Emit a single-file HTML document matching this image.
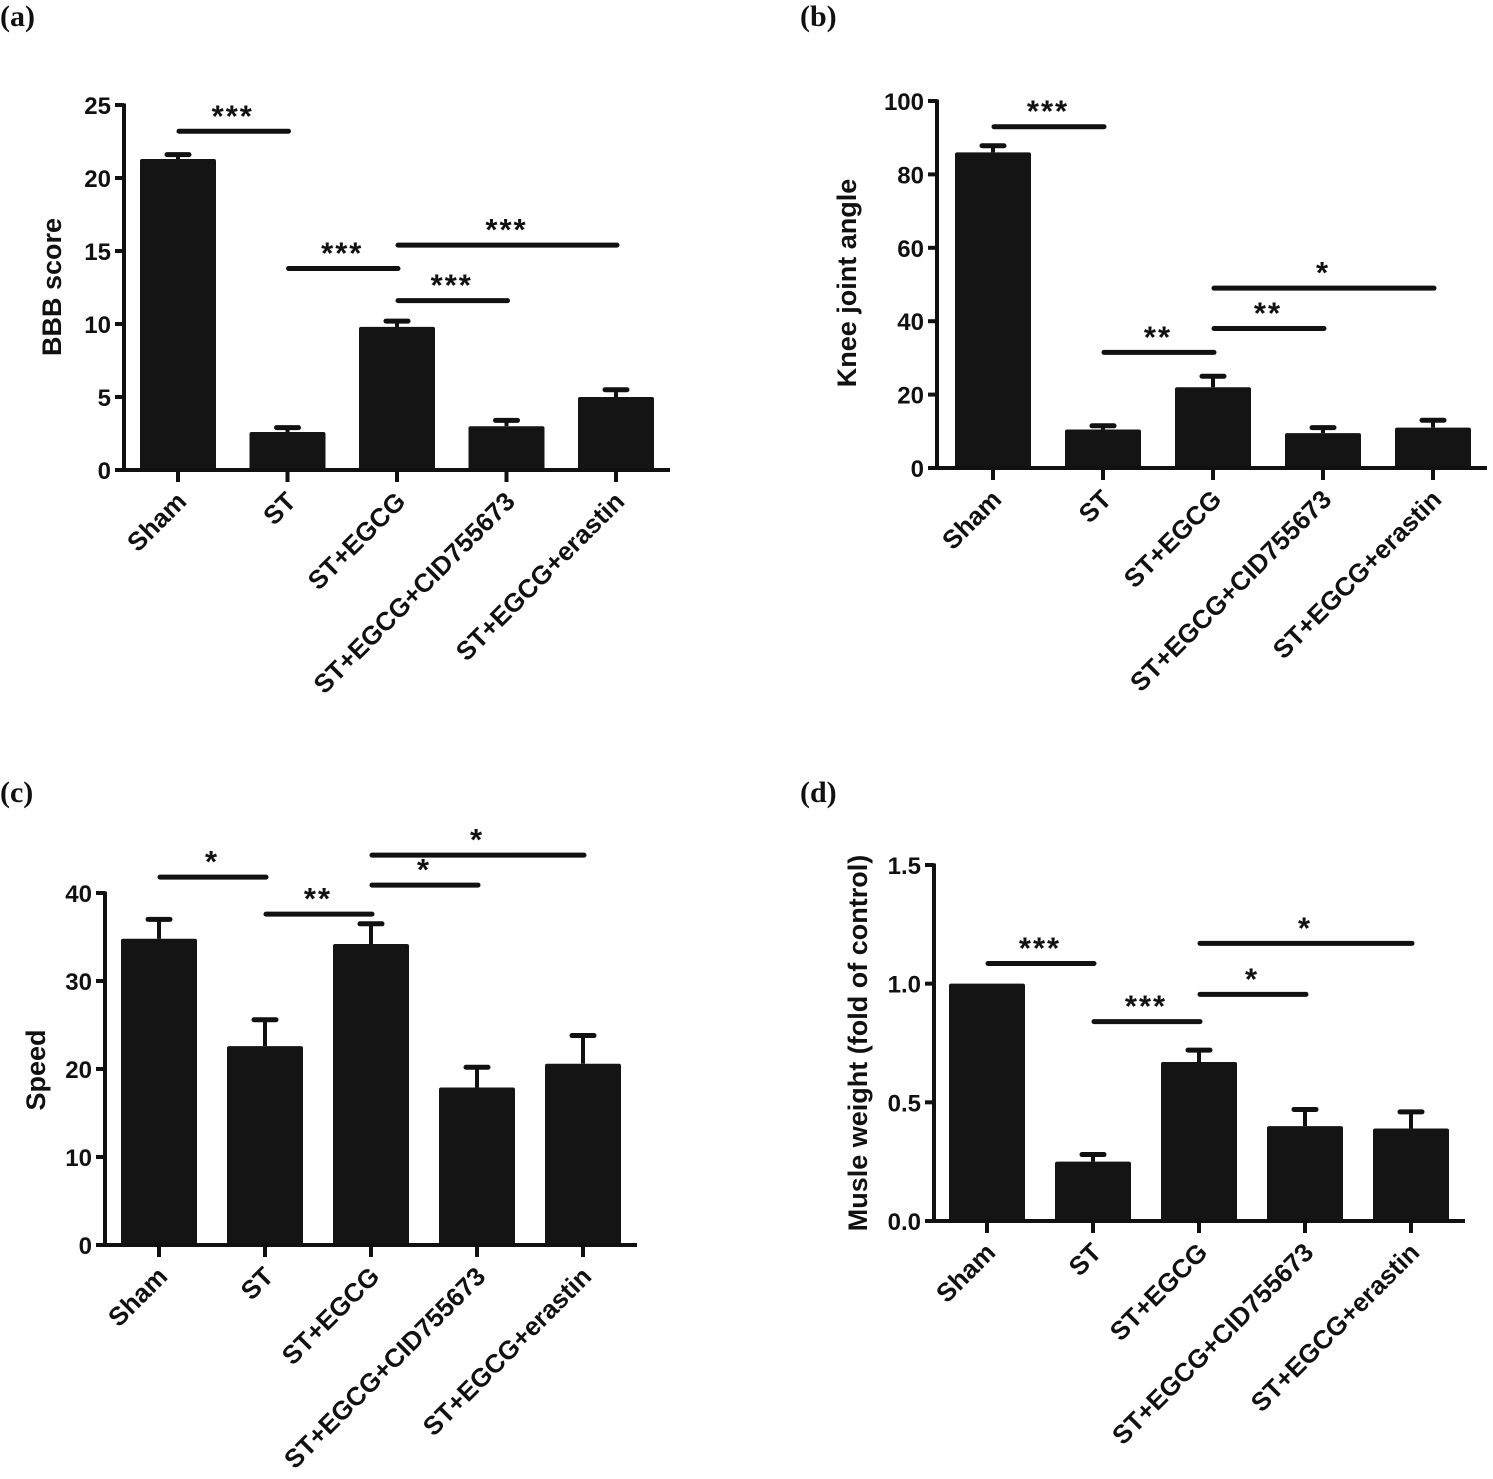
<!DOCTYPE html>
<html><head><meta charset="utf-8"><style>
body{margin:0;background:#fff}
svg{display:block}
text{font-family:"Liberation Sans",Arial,sans-serif;font-weight:bold;fill:#111}
</style></head><body>
<svg id="fig" width="1493" height="1479" viewBox="0 0 1493 1479"></svg>
<script>
const categories = ["Sham","ST","ST+EGCG","ST+EGCG+CID755673","ST+EGCG+erastin"];
const valuesA = [21.3,2.6,9.8,3.0,5.0];
const errorsA = [0.3,0.3,0.4,0.4,0.5];
const ticksA = [0,5,10,15,20,25];
const valuesB = [86,10.5,22,9.5,11];
const errorsB = [1.8,1.0,3.0,1.5,2.0];
const ticksB = [0,20,40,60,80,100];
const valuesC = [34.8,22.6,34.2,17.9,20.6];
const errorsC = [2.2,3.0,2.3,2.3,3.2];
const ticksC = [0,10,20,30,40];
const valuesD = [1.0,0.25,0.67,0.40,0.39];
const errorsD = [0,0.03,0.05,0.07,0.07];
const ticksD = [0,0.5,1.0,1.5];
const tickLabelsD = ["0.0","0.5","1.0","1.5"];
const sigA = [[0,1,23.2,"***"],[1,2,13.8,"***"],[2,3,11.6,"***"],[2,4,15.4,"***"]];
const sigB = [[0,1,93,"***"],[1,2,31.5,"**"],[2,3,38,"**"],[2,4,49,"*"]];
const sigC = [[0,1,41.8,"*"],[1,2,37.6,"**"],[2,3,40.9,"*"],[2,4,44.3,"*"]];
const sigD = [[0,1,1.085,"***"],[1,2,0.84,"***"],[2,3,0.955,"*"],[2,4,1.17,"*"]];

const NS="http://www.w3.org/2000/svg";
const svg=document.getElementById('fig');
function el(tag,attrs,parent){const e=document.createElementNS(NS,tag);for(const k in attrs)e.setAttribute(k,attrs[k]);(parent||svg).appendChild(e);return e;}

function panel(p){
  const g=el('g',{});
  
  
  const yS=v=>p.y0+(v-0)*(p.yTop-p.y0)/p.max;
  const xS=i=>p.x0+i*p.step;
  const lab=el('text',{x:p.lx,y:p.ly,'font-size':30,style:'font-family:"Liberation Serif",serif'},g);
  lab.textContent='('+p.id+')';
  
  
  p.vals.forEach((v,i)=>{
    const cx=xS(i);
    const top=yS(v);
    if(p.errs[i]>0){
      const et=yS(v+p.errs[i]);
      const e1=el('line',{x1:cx,y1:top,x2:cx,y2:et,stroke:'#111','stroke-width':4},g);
      
      
      const e2=el('line',{x1:cx-11,y1:et,x2:cx+11,y2:et,stroke:'#111','stroke-width':5,'stroke-linecap':'round'},g);
      
      
    }
    const r=el('rect',{x:cx-38,y:top,width:76,height:p.y0-top,fill:'#141414',rx:2},g);
    
    
    const t=el('line',{x1:cx,y1:p.y0,x2:cx,y2:p.y0+12,stroke:'#111','stroke-width':4},g);
    
    
    const tx=el('text',{x:0,y:0,'font-size':26,'text-anchor':'end',transform:`translate(${cx+10},${p.y0+33}) rotate(-45)`},g);
    tx.textContent=categories[i];
    
    
  });
  const ax=el('line',{x1:p.ax,y1:p.y0,x2:p.ax,y2:yS(p.max)-1.5,stroke:'#111','stroke-width':4},g);
  
  
  const bx=el('line',{x1:p.ax-2,y1:p.y0,x2:xS(4)+54,y2:p.y0,stroke:'#111','stroke-width':4},g);
  
  
  p.ticks.forEach((t,k)=>{
    const y=yS(t);
    const l=el('line',{x1:p.ax-9,y1:y,x2:p.ax,y2:y,stroke:'#111','stroke-width':4},g);
    
    
    const tt=el('text',{x:p.ax-13,y:y+9,'font-size':24,'text-anchor':'end'},g);
    tt.textContent=p.tickLabels?p.tickLabels[k]:String(t);
    
    
  });
  const yt=el('text',{x:0,y:0,'font-size':27,'text-anchor':'middle',transform:`translate(${p.tx},${p.ty}) rotate(-90)`},g);
  yt.textContent=p.title;
  
  
  p.sig.forEach(s=>{
    const y=yS(s[2]);
    const l=el('line',{x1:xS(s[0])+1,y1:y,x2:xS(s[1])+1,y2:y,stroke:'#111','stroke-width':5,'stroke-linecap':'round'},g);
    
    
    const st=el('text',{x:(xS(s[0])+xS(s[1]))/2,y:y-5,'font-size':31,'text-anchor':'middle','letter-spacing':'2'},g);
    st.textContent=s[3];
    
    
  });
}
panel({id:'a',vals:valuesA,errs:errorsA,ticks:ticksA,sig:sigA,max:25,y0:470,yTop:105,x0:178,step:109.5,ax:124,lx:0,ly:26,tx:61,ty:287,title:'BBB score'});
panel({id:'b',vals:valuesB,errs:errorsB,ticks:ticksB,sig:sigB,max:100,y0:468,yTop:101,x0:993,step:110,ax:937,lx:800,ly:26,tx:856,ty:283,title:'Knee joint angle'});
panel({id:'c',vals:valuesC,errs:errorsC,ticks:ticksC,sig:sigC,max:40,y0:1245,yTop:893,x0:159,step:106,ax:105,lx:0,ly:802,tx:45,ty:1070,title:'Speed'});
panel({id:'d',vals:valuesD,errs:errorsD,ticks:ticksD,tickLabels:tickLabelsD,sig:sigD,max:1.5,y0:1221,yTop:865,x0:987,step:106,ax:934,lx:800,ly:802,tx:867,ty:1043,title:'Musle weight (fold of control)'});
</script>
</body></html>
